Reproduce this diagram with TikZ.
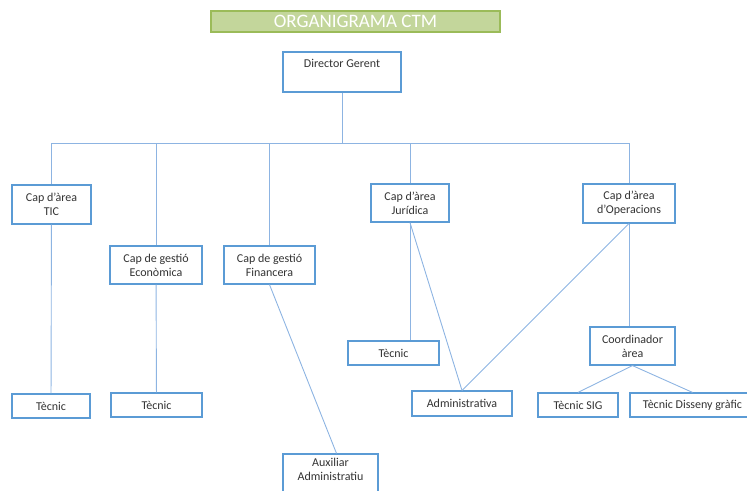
\documentclass[tikz,border=0pt]{standalone}
\usepackage{fontspec}
\setmainfont{Carlito}
\usepackage{tikz}
\definecolor{boxblue}{RGB}{91,155,213}
\definecolor{lineblue}{RGB}{141,180,226}
\definecolor{titlefill}{RGB}{195,214,155}
\definecolor{titledraw}{RGB}{155,187,89}

\begin{document}
\begin{tikzpicture}[x=1pt,y=-1pt,
  every node/.style={draw=boxblue,line width=1.2pt,fill=white,align=center,inner sep=0pt,
    text=black!80,font=\fontsize{12}{14}\selectfont},
  conn/.style={draw=lineblue,line width=0.9pt}]
\useasboundingbox (0,0) rectangle (747,490);
\node[fill=titlefill,draw=titledraw,line width=1.5pt,text=white,font=\fontsize{19}{21}\selectfont,
  minimum width=289pt,minimum height=21pt] (title) at (355.5,21.5) {ORGANIGRAMA CTM};
\node[minimum width=118pt,minimum height=40pt] (dir) at (342,72) {Director Gerent\\ \strut};
\node[minimum width=79pt,minimum height=39pt] (tic) at (51.5,204.5) {Cap d'àrea\\TIC};
\node[minimum width=92pt,minimum height=38pt] (eco) at (156,265) {Cap de gestió\\Econòmica};
\node[minimum width=91pt,minimum height=38pt] (fin) at (269.5,265) {Cap de gestió\\Financera};
\node[minimum width=78pt,minimum height=38pt] (jur) at (410,203) {Cap d'àrea\\Jurídica};
\node[minimum width=92pt,minimum height=39pt] (ope) at (629,203.5) {Cap d'àrea\\d'Operacions};
\node[minimum width=85pt,minimum height=38pt] (coo) at (632.5,346) {Coordinador\\àrea};
\node[minimum width=78pt,minimum height=24pt] (tec1) at (51,406) {Tècnic};
\node[minimum width=91pt,minimum height=24pt] (tec2) at (156.5,405) {Tècnic};
\node[minimum width=91pt,minimum height=24pt] (tec3) at (393.5,353) {Tècnic};
\node[minimum width=100pt,minimum height=25pt] (adm) at (462,403.5) {Administrativa};
\node[minimum width=80pt,minimum height=24pt] (sig) at (578,405) {Tècnic SIG};
\node[minimum width=125pt,minimum height=24pt] (dis) at (692.5,405) {Tècnic Disseny gràfic};
\node[minimum width=95pt,minimum height=50pt] (aux) at (330.5,479) {Auxiliar\\Administratiu\\[2pt] \strut};

\coordinate (bus) at (0,143);
\draw[conn] (dir) -- (dir |- bus);
\draw[conn] (tic |- bus) -- (ope |- bus);
\draw[conn] (tic |- bus) -- (tic);
\draw[conn] (eco |- bus) -- (eco);
\draw[conn] (fin |- bus) -- (fin);
\draw[conn] (jur |- bus) -- (jur);
\draw[conn] (ope |- bus) -- (ope);

\draw[conn] (tic) -- (tec1);
\draw[conn] (eco) -- (tec2);
\draw[conn] (fin.south) -- ([xshift=6pt]aux.north);
\draw[conn] (jur.south) -- (jur.south |- tec3.north);
\draw[conn] (jur.south) -- (adm.north);
\draw[conn] (ope.south) -- (adm.north);
\draw[conn] (ope.south) -- (ope.south |- coo.north);
\draw[conn] (coo.south) -- (sig.north);
\draw[conn] (coo.south) -- (dis.north);
\end{tikzpicture}
\end{document}
